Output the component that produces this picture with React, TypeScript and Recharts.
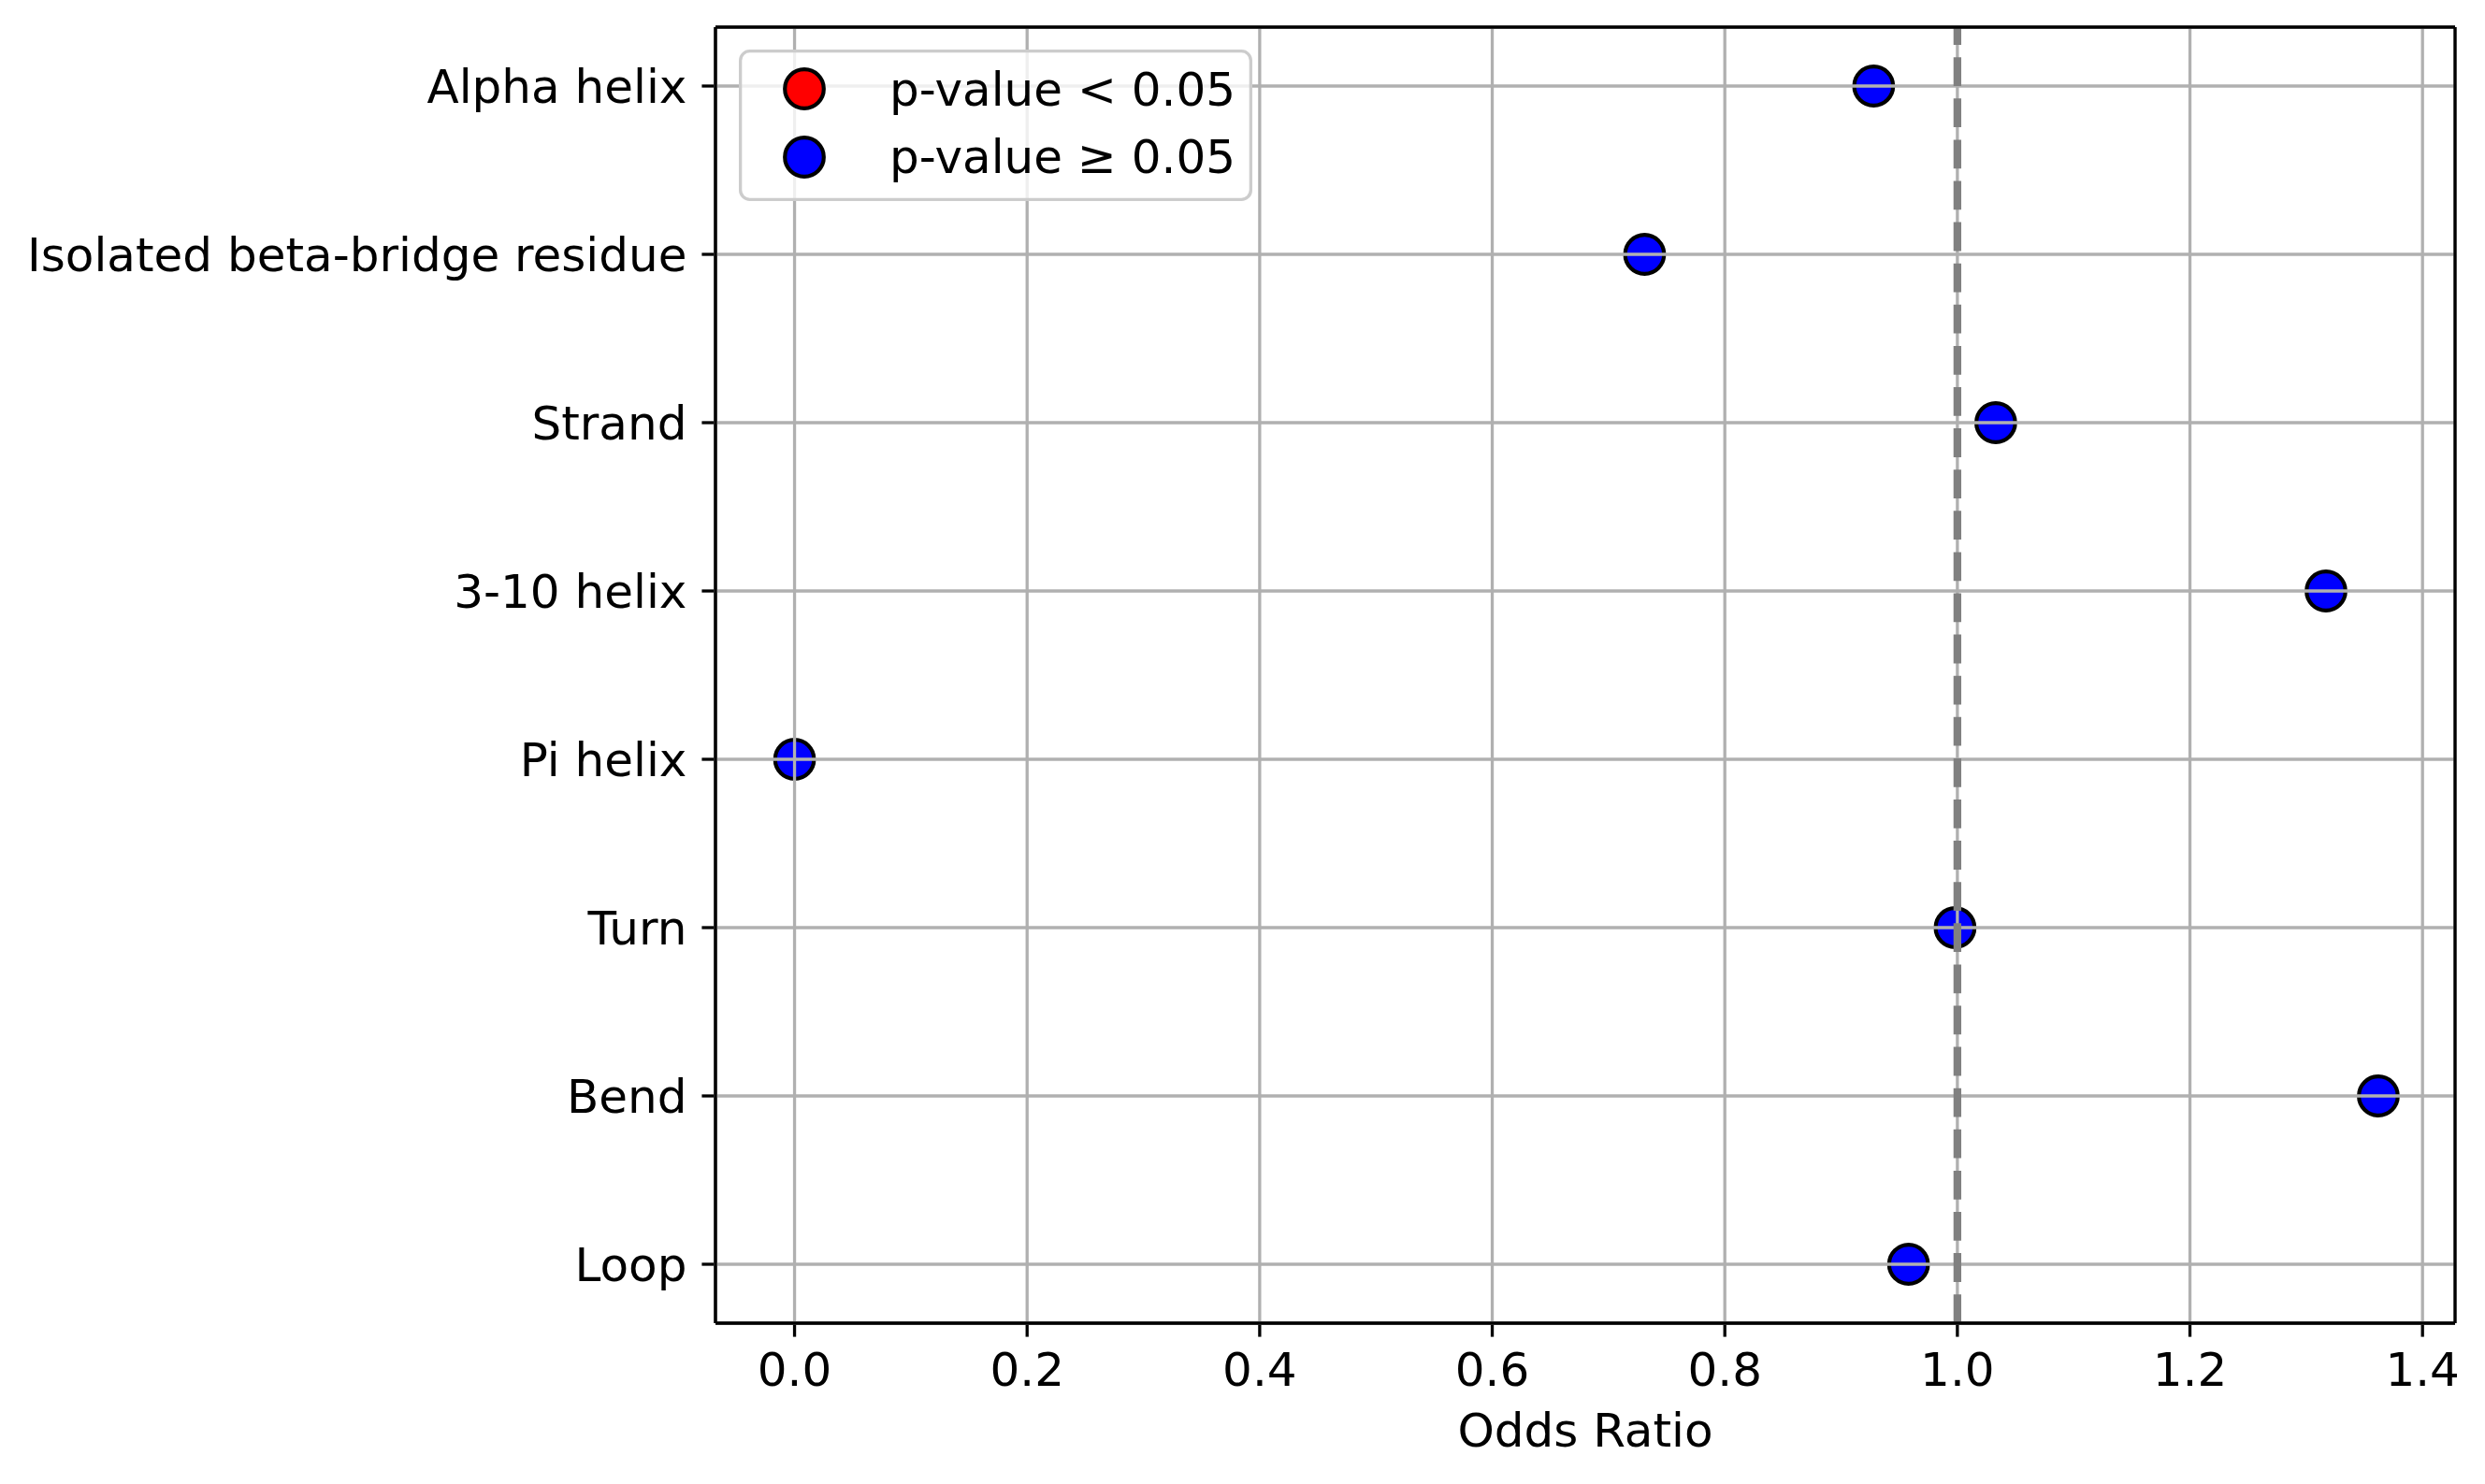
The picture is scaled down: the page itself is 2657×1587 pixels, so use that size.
import { ScatterChart, Scatter, XAxis, YAxis, CartesianGrid, ReferenceLine, Legend } from 'recharts'

const categories = ['Alpha helix', 'Isolated beta-bridge residue', 'Strand', '3-10 helix', 'Pi helix', 'Turn', 'Bend', 'Loop']
const oddsRatios = [0.928, 0.731, 1.033, 1.317, 0.0, 0.998, 1.362, 0.958]
const significant = [false, false, false, false, false, false, false, false]
const xTicks = [0, 0.2, 0.4, 0.6, 0.8, 1.0, 1.2, 1.4]
const yTicks = categories.map((_, i) => i)
const legendLabels = ['p-value < 0.05', 'p-value \u2265 0.05']
const legendColors = ['#ff0000', '#0000ff']
const referenceOdds = 1
const xDomain = [-0.068, 1.428]
const yDomain = [-0.35, 7.35]

const FONT = '"DejaVu Sans", sans-serif'
const rows = categories.map((name, i) => ({ name, idx: i, odds: oddsRatios[i], sig: significant[i] }))
const sigRows = rows.filter(r => r.sig)
const nsRows = rows.filter(r => !r.sig)

const dot = (color: string) => (props: any) => (
  <circle cx={props.cx} cy={props.cy} r={20.8} fill={color} stroke="#000" strokeWidth={4.2} />
)

const LegendBox = () => (
  <svg width={549} height={162} style={{ display: 'block' }}>
    <rect x={1.65} y={1.65} width={545.7} height={158.7} rx={10} fill="rgba(255,255,255,0.8)" stroke="#cccccc" strokeWidth={3.3} />
    {legendLabels.map((label, i) => (
      <g key={label}>
        <circle cx={70} cy={42 + i * 73} r={20.8} fill={legendColors[i]} stroke="#000" strokeWidth={4.2} />
        <text x={161} y={60 + i * 72} fontSize={50} fontFamily={FONT} fill="#000">{label}</text>
      </g>
    ))}
  </svg>
)

export default function App() {
  const tick = { fontSize: 50, fill: '#000', fontFamily: FONT }
  const axisLine = { stroke: '#000', strokeWidth: 3.3 }
  return (
    <div style={{ position: 'absolute', left: 0, top: 0, background: '#fff' }}>
      <ScatterChart width={2657} height={1587} margin={{ top: 29, right: 32, bottom: 0, left: 0 }}>
        <XAxis
          type="number"
          dataKey="odds"
          domain={xDomain}
          ticks={xTicks}
          interval={0}
          allowDataOverflow
          tickFormatter={(v: number) => v.toFixed(1)}
          height={172}
          tickSize={14.6}
          tickMargin={17}
          axisLine={axisLine}
          tickLine={axisLine}
          tick={tick}
          label={{ value: 'Odds Ratio', position: 'insideBottom', offset: 40, fontSize: 50, fill: '#000', fontFamily: FONT }}
        />
        <YAxis
          type="number"
          dataKey="idx"
          domain={yDomain}
          reversed
          ticks={yTicks}
          interval={0}
          allowDataOverflow
          tickFormatter={(v: number) => categories[v] ?? ''}
          width={765}
          tickSize={14.6}
          tickMargin={16}
          axisLine={axisLine}
          tickLine={axisLine}
          tick={tick}
        />
        <Scatter name={legendLabels[0]} data={sigRows} fill={legendColors[0]} shape={dot(legendColors[0])} isAnimationActive={false} />
        <Scatter name={legendLabels[1]} data={nsRows} fill={legendColors[1]} shape={dot(legendColors[1])} isAnimationActive={false} />
        <CartesianGrid stroke="#b0b0b0" strokeWidth={3.3} zIndex={650} />
        <ReferenceLine x={referenceOdds} stroke="#808080" strokeWidth={8.3} strokeDasharray="30.8 13.3" zIndex={700} />
        {/* axes frame on all four sides */}
        <ReferenceLine y={yDomain[0]} stroke="#000" strokeWidth={3.3} zIndex={710} />
        <ReferenceLine y={yDomain[1]} stroke="#000" strokeWidth={3.3} zIndex={710} />
        <ReferenceLine x={xDomain[0]} stroke="#000" strokeWidth={3.3} zIndex={710} />
        <ReferenceLine x={xDomain[1]} stroke="#000" strokeWidth={3.3} zIndex={710} />
        <Legend
          layout="vertical"
          align="center"
          verticalAlign="middle"
          content={() => <LegendBox />}
          wrapperStyle={{ left: 790, top: 53, width: 549, height: 162 }}
        />
      </ScatterChart>
    </div>
  )
}
